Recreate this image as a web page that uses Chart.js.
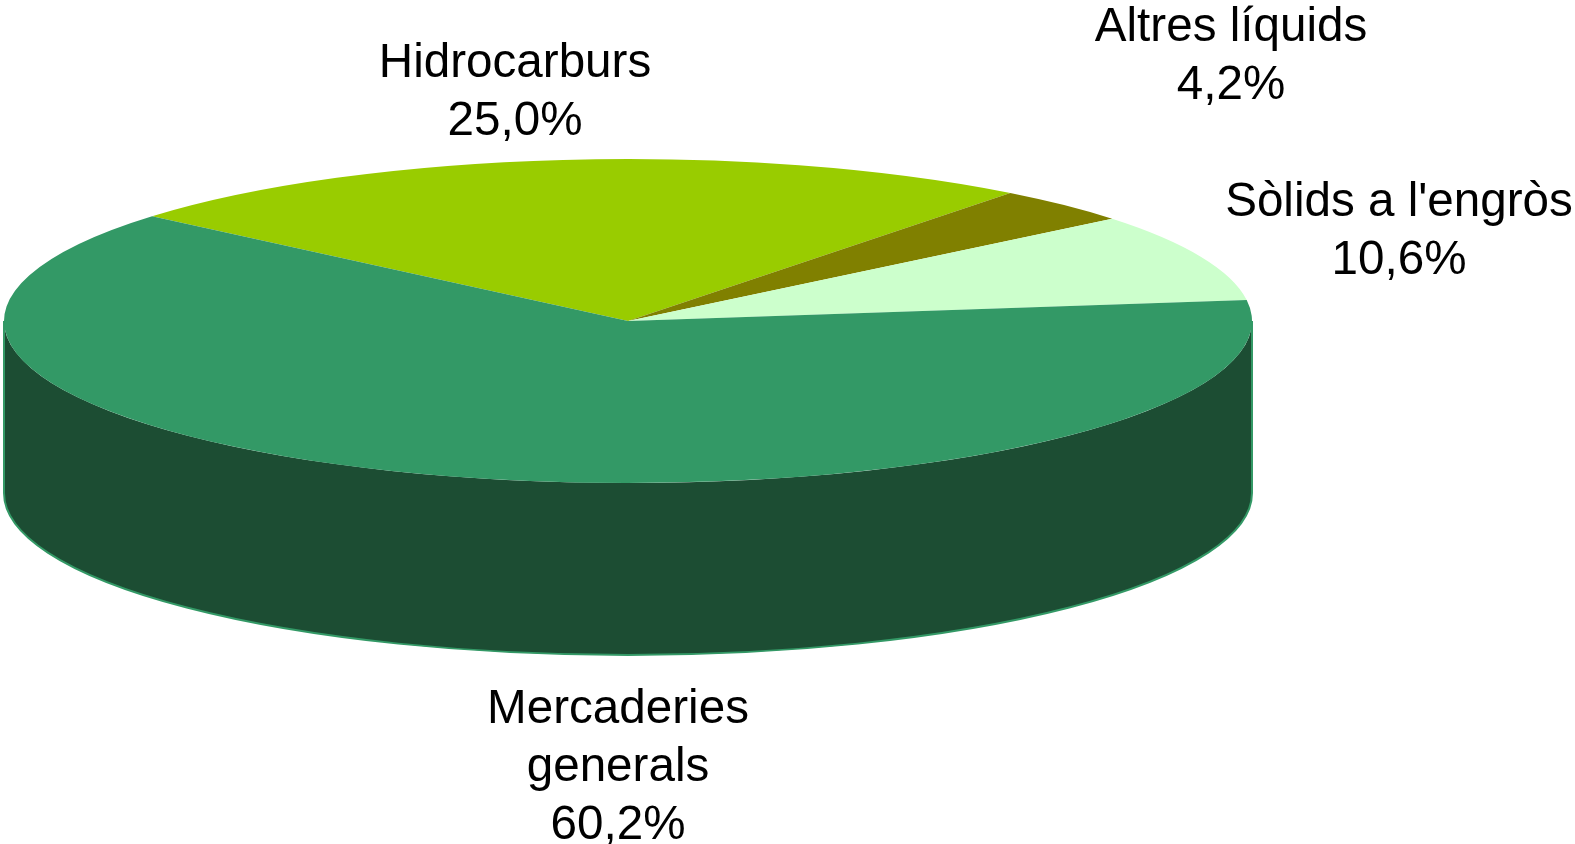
<!DOCTYPE html>
<html>
<head>
<meta charset="utf-8">
<title>Mercaderies</title>
<script src="https://cdn.jsdelivr.net/npm/chart.js@4"></script>
<style>
  html, body { margin: 0; padding: 0; background: #fff; overflow: hidden; }
  canvas { display: block; }
</style>
</head>
<body>
<canvas id="pie-area" width="1575" height="844"></canvas>
<script>
const categories = ["Hidrocarburs", "Altres líquids", "Sòlids a l'engròs", "Mercaderies generals"];
const printedValues = ["25,0%", "4,2%", "10,6%", "60,2%"]; // what the labels say
// share of the circle each slice really covers in the picture, measured from its edges
// (the 3D view of the original does not keep the printed proportions)
const sliceShares = [24.3, 3.64, 8.79, 63.27];

const topColors = ["#99cc00", "#808000", "#ccffcc", "#339966"];
const sideColors = ["#4d6600", "#404000", "#668066", "#1c4d33"];

const labelLines = [
  ["Hidrocarburs", printedValues[0]],
  ["Altres líquids", printedValues[1]],
  ["Sòlids a l'engròs", printedValues[2]],
  ["Mercaderies", "generals", printedValues[3]],
];
const labelSpots = [
  [515, 77],
  [1231, 41],
  [1399, 216],
  [618, 723],
];

const tilt = 162 / 624; // squash of the circle into an ellipse
const sideDepth = 172;

// side wall of the pie, only the part of each slice facing the viewer
function drawSide(ctx, arc, i) {
  const rx = arc.outerRadius;
  const ry = rx * tilt;
  const a0 = Math.max(arc.startAngle, 0);
  const a1 = Math.min(arc.endAngle, Math.PI);
  if (a1 <= a0) return;

  ctx.beginPath();
  ctx.ellipse(arc.x, arc.y, rx, ry, 0, a0, a1);
  ctx.ellipse(arc.x, arc.y + sideDepth, rx, ry, 0, a1, a0, true);
  ctx.closePath();
  ctx.fillStyle = sideColors[i];
  ctx.fill();

  ctx.beginPath();
  ctx.moveTo(arc.x + rx * Math.cos(a0), arc.y + ry * Math.sin(a0));
  ctx.ellipse(arc.x, arc.y + sideDepth, rx, ry, 0, a0, a1);
  ctx.lineTo(arc.x + rx * Math.cos(a1), arc.y + ry * Math.sin(a1));
  ctx.strokeStyle = topColors[i];
  ctx.lineWidth = 2;
  ctx.stroke();
}

const pie3d = {
  id: "pie3d",
  beforeDatasetsDraw(chart) {
    chart.getDatasetMeta(0).data.forEach((arc, i) => drawSide(chart.ctx, arc, i));
  },
  beforeDatasetDraw(chart) {
    const ctx = chart.ctx;
    const arc = chart.getDatasetMeta(0).data[0];
    ctx.save();
    ctx.translate(arc.x, arc.y);
    ctx.scale(1, tilt);
    ctx.translate(-arc.x, -arc.y);
  },
  afterDatasetDraw(chart) {
    chart.ctx.restore();
  },
  afterDraw(chart) {
    const ctx = chart.ctx;
    ctx.save();
    ctx.font = '47.6px "Liberation Sans", Arial, sans-serif';
    ctx.fillStyle = "#000";
    ctx.textAlign = "center";
    ctx.textBaseline = "alphabetic";
    labelLines.forEach((lines, i) => {
      lines.forEach((line, n) => {
        ctx.fillText(line, labelSpots[i][0], labelSpots[i][1] + n * 58);
      });
    });
    ctx.restore();
  },
};

new Chart("pie-area", {
  type: "pie",
  data: {
    labels: categories,
    datasets: [
      {
        data: sliceShares,
        backgroundColor: topColors,
        borderWidth: 0,
        radius: 624,
        clip: false,
      },
    ],
  },
  options: {
    responsive: false,
    animation: false,
    rotation: -49.7, // first slice starts at the upper left edge
    layout: { padding: { right: 319, bottom: 202 } },
    plugins: {
      legend: { display: false },
      tooltip: { enabled: false },
    },
  },
  plugins: [pie3d],
});
</script>
</body>
</html>
